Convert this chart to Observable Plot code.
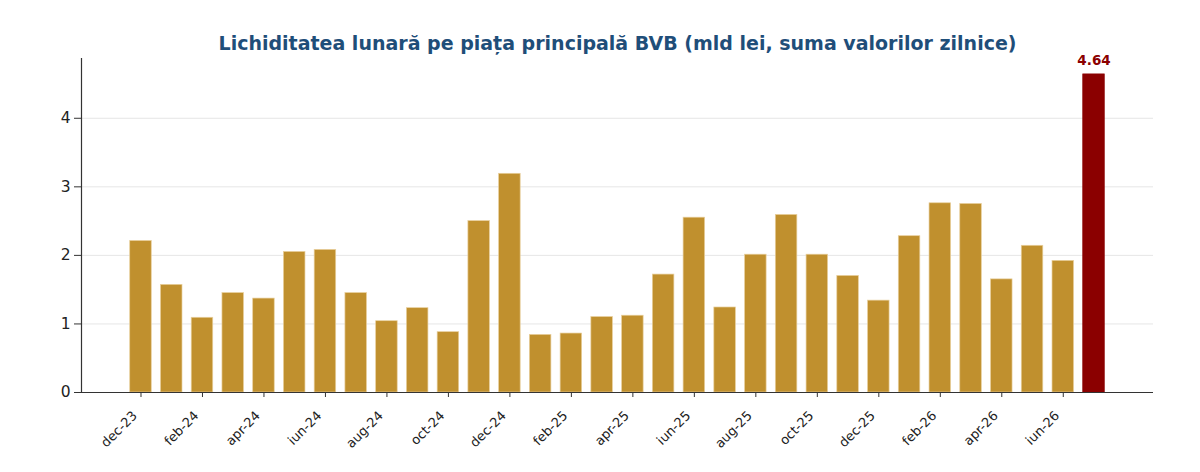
<!DOCTYPE html>
<html>
<head>
<meta charset="utf-8">
<script src="https://cdn.jsdelivr.net/npm/d3@7"></script>
<script src="https://cdn.jsdelivr.net/npm/@observablehq/plot@0.6"></script>
<style>
  html, body { margin: 0; padding: 0; background: #fff; }
  #chart svg { display: block; }
</style>
</head>
<body>
<div id="chart"></div>
<script>
const months = [
  "dec-23","ian-24","feb-24","mar-24","apr-24","mai-24","iun-24","iul-24","aug-24","sep-24","oct-24","nov-24",
  "dec-24","ian-25","feb-25","mar-25","apr-25","mai-25","iun-25","iul-25","aug-25","sep-25","oct-25","nov-25",
  "dec-25","ian-26","feb-26","mar-26","apr-26","mai-26","iun-26","iul-26"
];
const values = [
  2.21, 1.57, 1.09, 1.45, 1.37, 2.05, 2.08, 1.45, 1.04, 1.23, 0.88, 2.50,
  3.19, 0.84, 0.86, 1.10, 1.12, 1.72, 2.55, 1.24, 2.01, 2.59, 2.01, 1.70,
  1.34, 2.28, 2.76, 2.75, 1.65, 2.14, 1.92, 4.64
];
const tickLabels = months.filter((m, i) => i % 2 === 0);
const yTicks = [0, 1, 2, 3, 4];
const titleText = "Lichiditatea lunară pe piața principală BVB (mld lei, suma valorilor zilnice)";

const data = months.map((m, i) => ({month: m, value: values[i], last: i === months.length - 1}));
const lastPoint = data[data.length - 1];

const chart = Plot.plot({
  width: 1200,
  height: 472,
  marginTop: 58,
  marginBottom: 80,
  marginLeft: 81,
  marginRight: 47,
  style: {fontFamily: "DejaVu Sans", background: "#fff", overflow: "visible"},
  x: {type: "band", domain: months, paddingInner: 0.3, paddingOuter: 1.585, align: 0.5, round: false},
  y: {domain: [0, lastPoint.value * 1.05]},
  marks: [
    Plot.ruleY(yTicks.slice(1), {stroke: "#e6e6e6", strokeWidth: 1}),
    Plot.barY(data, {
      x: "month", y: "value",
      fill: d => d.last ? "#8B0000" : "#C0902E",
      stroke: d => d.last ? "#8B0000" : "#E8CF9C",
      strokeWidth: 0.7
    }),
    Plot.text([lastPoint], {
      x: "month", y: "value", text: d => d.value.toFixed(2),
      dy: -14, fill: "#8B0000", fontWeight: "bold", fontSize: 13.5
    }),
    Plot.axisY({
      ticks: yTicks, tickSize: 7, tickPadding: 4, fontSize: 15.5,
      tickFormat: d => String(d), label: null, stroke: "#333", color: "#222"
    }),
    Plot.axisX({
      ticks: tickLabels, tickSize: 5, tickFormat: () => "", label: null, stroke: "#333"
    }),
    Plot.axisX({
      ticks: tickLabels, tickSize: 0, tickPadding: 3, tickRotate: -45,
      fontSize: 13, label: null, color: "#222", dx: -6, dy: 18
    }),
    Plot.frame({anchor: "left", stroke: "#333", strokeWidth: 1.2}),
    Plot.ruleY([0], {stroke: "#333", strokeWidth: 1.2}),
    Plot.text([titleText], {
      frameAnchor: "top", dy: -15, text: d => d,
      fontSize: 19, fontWeight: "bold", fill: "#1F4E79", lineAnchor: "middle"
    })
  ]
});
document.getElementById("chart").appendChild(chart);
</script>
</body>
</html>
